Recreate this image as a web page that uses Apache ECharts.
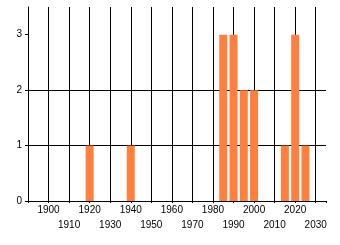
<!DOCTYPE html>
<html>
<head>
<meta charset="utf-8">
<script src="https://cdn.jsdelivr.net/npm/echarts@6/dist/echarts.min.js"></script>
<style>
html,body{margin:0;padding:0;background:#fff;}
#chart{width:340px;height:245px;}
</style>
</head>
<body>
<div id="chart"></div>
<script>
var years = [1920, 1940, 1985, 1990, 1995, 2000, 2015, 2020, 2025];
var counts = [1, 1, 3, 3, 2, 2, 1, 3, 1];
var xTickLabels = ['1900', '1910', '1920', '1930', '1940', '1950', '1960', '1970', '1980', '1990', '2000', '2010', '2020', '2030'];
var yTicks = [0, 1, 2, 3];

var chart = echarts.init(document.getElementById('chart'), null, {renderer: 'canvas'});
var font = 'Liberation Sans';
chart.setOption({
  animation: false,
  backgroundColor: '#ffffff',
  grid: {left: 28, right: 14, top: 7, bottom: 44, containLabel: false},
  xAxis: {
    type: 'value',
    min: 1890,
    max: 2035,
    interval: 10,
    axisLine: {show: true, lineStyle: {color: '#000', width: 1}},
    axisTick: {show: true, length: 2, lineStyle: {color: '#000'}},
    splitLine: {show: true, showMinLine: true, showMaxLine: false, lineStyle: {color: '#000', width: 1}},
    axisLabel: {
      show: true,
      hideOverlap: false,
      showMinLabel: true,
      showMaxLabel: true,
      margin: 2,
      fontFamily: font,
      fontSize: 10,
      lineHeight: 15,
      color: '#000',
      verticalAlign: 'top',
      formatter: function (v) {
        var s = String(Math.round(v));
        if (xTickLabels.indexOf(s) < 0) return '';
        return (v % 20 === 0) ? s : '\n' + s;
      }
    }
  },
  yAxis: {
    type: 'value',
    min: 0,
    max: 3.5,
    interval: 1,
    axisLine: {show: true, lineStyle: {color: '#000', width: 1}},
    axisTick: {show: true, length: 3, customValues: yTicks, lineStyle: {color: '#000'}},
    splitLine: {show: true, showMaxLine: false, lineStyle: {color: '#000', width: 1}},
    axisLabel: {
      customValues: yTicks,
      margin: 6,
      fontFamily: font,
      fontSize: 10,
      color: '#000'
    }
  },
  series: [{
    type: 'bar',
    data: years.map(function (y, i) { return [y, counts[i]]; }),
    barWidth: 8,
    itemStyle: {color: '#FF7F3F'}
  }]
});
</script>
</body>
</html>
